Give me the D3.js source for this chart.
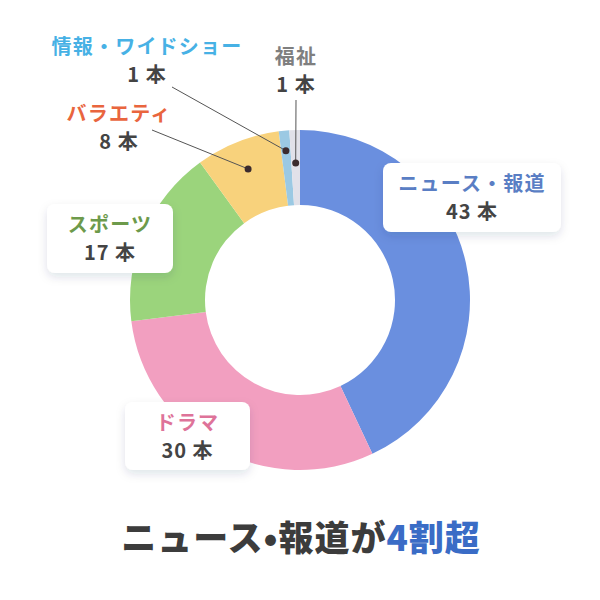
<!DOCTYPE html>
<html lang="ja">
<head>
<meta charset="utf-8">
<script src="https://cdn.jsdelivr.net/npm/d3@7"></script>
<style>
  html, body { margin: 0; padding: 0; background: #fff; }
  svg { display: block; font-family: "Noto Sans CJK JP", "Noto Sans", sans-serif; }
</style>
</head>
<body>
<svg id="chart" width="600" height="600"></svg>
<script>
"use strict";

// Gegevens
const categories = ["ニュース・報道", "ドラマ", "スポーツ", "バラエティ", "情報・ワイドショー", "福祉"];
const counts = [43, 30, 17, 8, 1, 1];
const unit = "本";
const titleMain = "ニュース•報道が";
const titleAccent = "4割超";

// Kleuren per categorie
const sliceColors = ["#6a8fdf", "#f29fc0", "#9bd47c", "#f8d27c", "#9bc9e3", "#e1e1e9"];
const labelColors = ["#5a7ec4", "#de7399", "#6d9a4b", "#e9653e", "#47b1e5", "#7f7f7f"];

// Opmaak van de labels (kader of verbindingslijn)
const labelLayout = [
    { type: "box", x: 383, y: 163, w: 178, h: 69 },
    { type: "box", x: 125, y: 402, w: 125, h: 68 },
    { type: "box", x: 47, y: 204, w: 126, h: 69 },
    { type: "leader", tx: 119, ty: 121, lx: 152, ly: 130, r: 141 },
    { type: "leader", tx: 147, ty: 54, lx: 172, ly: 87, r: 150 },
    { type: "leader", tx: 296, ty: 64, lx: 296, ly: 100, r: 137 }
];

const cx = 300, cy = 300;
const svg = d3.select("#chart");

const defs = svg.append("defs");
defs.append("filter")
    .attr("id", "schaduw")
    .attr("x", "-30%").attr("y", "-30%").attr("width", "160%").attr("height", "170%")
    .append("feDropShadow")
    .attr("dx", 0).attr("dy", 4).attr("stdDeviation", 5)
    .attr("flood-color", "#1a2a50").attr("flood-opacity", 0.13);

const pie = d3.pie().sort(null).value((d) => d);
const arcs = pie(counts);
const arc = d3.arc().innerRadius(95).outerRadius(170);

const g = svg.append("g").attr("transform", "translate(" + cx + "," + cy + ")");
g.selectAll("path.slice")
    .data(arcs)
    .enter().append("path")
    .attr("class", "slice")
    .attr("d", arc)
    .attr("fill", (d, i) => sliceColors[i]);

// Labels: naam en aantal
function schrijfLabel(x, y, i) {
    svg.append("text")
        .attr("x", x).attr("y", y)
        .attr("text-anchor", "middle")
        .attr("font-size", 20).attr("font-weight", 700)
        .attr("letter-spacing", 1.2)
        .attr("fill", labelColors[i])
        .text(categories[i]);
    svg.append("text")
        .attr("x", x).attr("y", y + 28)
        .attr("text-anchor", "middle")
        .attr("font-size", 20).attr("font-weight", 700)
        .attr("letter-spacing", 1)
        .attr("fill", "#444")
        .text(counts[i] + " " + unit);
}

arcs.forEach(function (d, i) {
    const lay = labelLayout[i];
    if (lay.type === "box") {
        svg.append("rect")
            .attr("x", lay.x).attr("y", lay.y)
            .attr("width", lay.w).attr("height", lay.h)
            .attr("rx", 8)
            .attr("fill", "#fff")
            .attr("filter", "url(#schaduw)");
        schrijfLabel(lay.x + lay.w / 2, lay.y + 28, i);
    } else {
        const punt = d3.arc().innerRadius(lay.r).outerRadius(lay.r).centroid(d);
        svg.append("line")
            .attr("x1", lay.lx).attr("y1", lay.ly)
            .attr("x2", cx + punt[0]).attr("y2", cy + punt[1])
            .attr("stroke", "#555").attr("stroke-width", 1);
        svg.append("circle")
            .attr("cx", cx + punt[0]).attr("cy", cy + punt[1])
            .attr("r", 3.5)
            .attr("fill", "#3b2b2e");
        schrijfLabel(lay.tx, lay.ty, i);
    }
});

// Titel
const titel = svg.append("text")
    .attr("x", 301).attr("y", 551)
    .attr("text-anchor", "middle")
    .attr("font-size", 35).attr("font-weight", 900)
    .attr("letter-spacing", 1);
titel.append("tspan").attr("fill", "#3c3c3c").text(titleMain);
titel.append("tspan").attr("fill", "#3a6cc6").text(titleAccent);
</script>
</body>
</html>
